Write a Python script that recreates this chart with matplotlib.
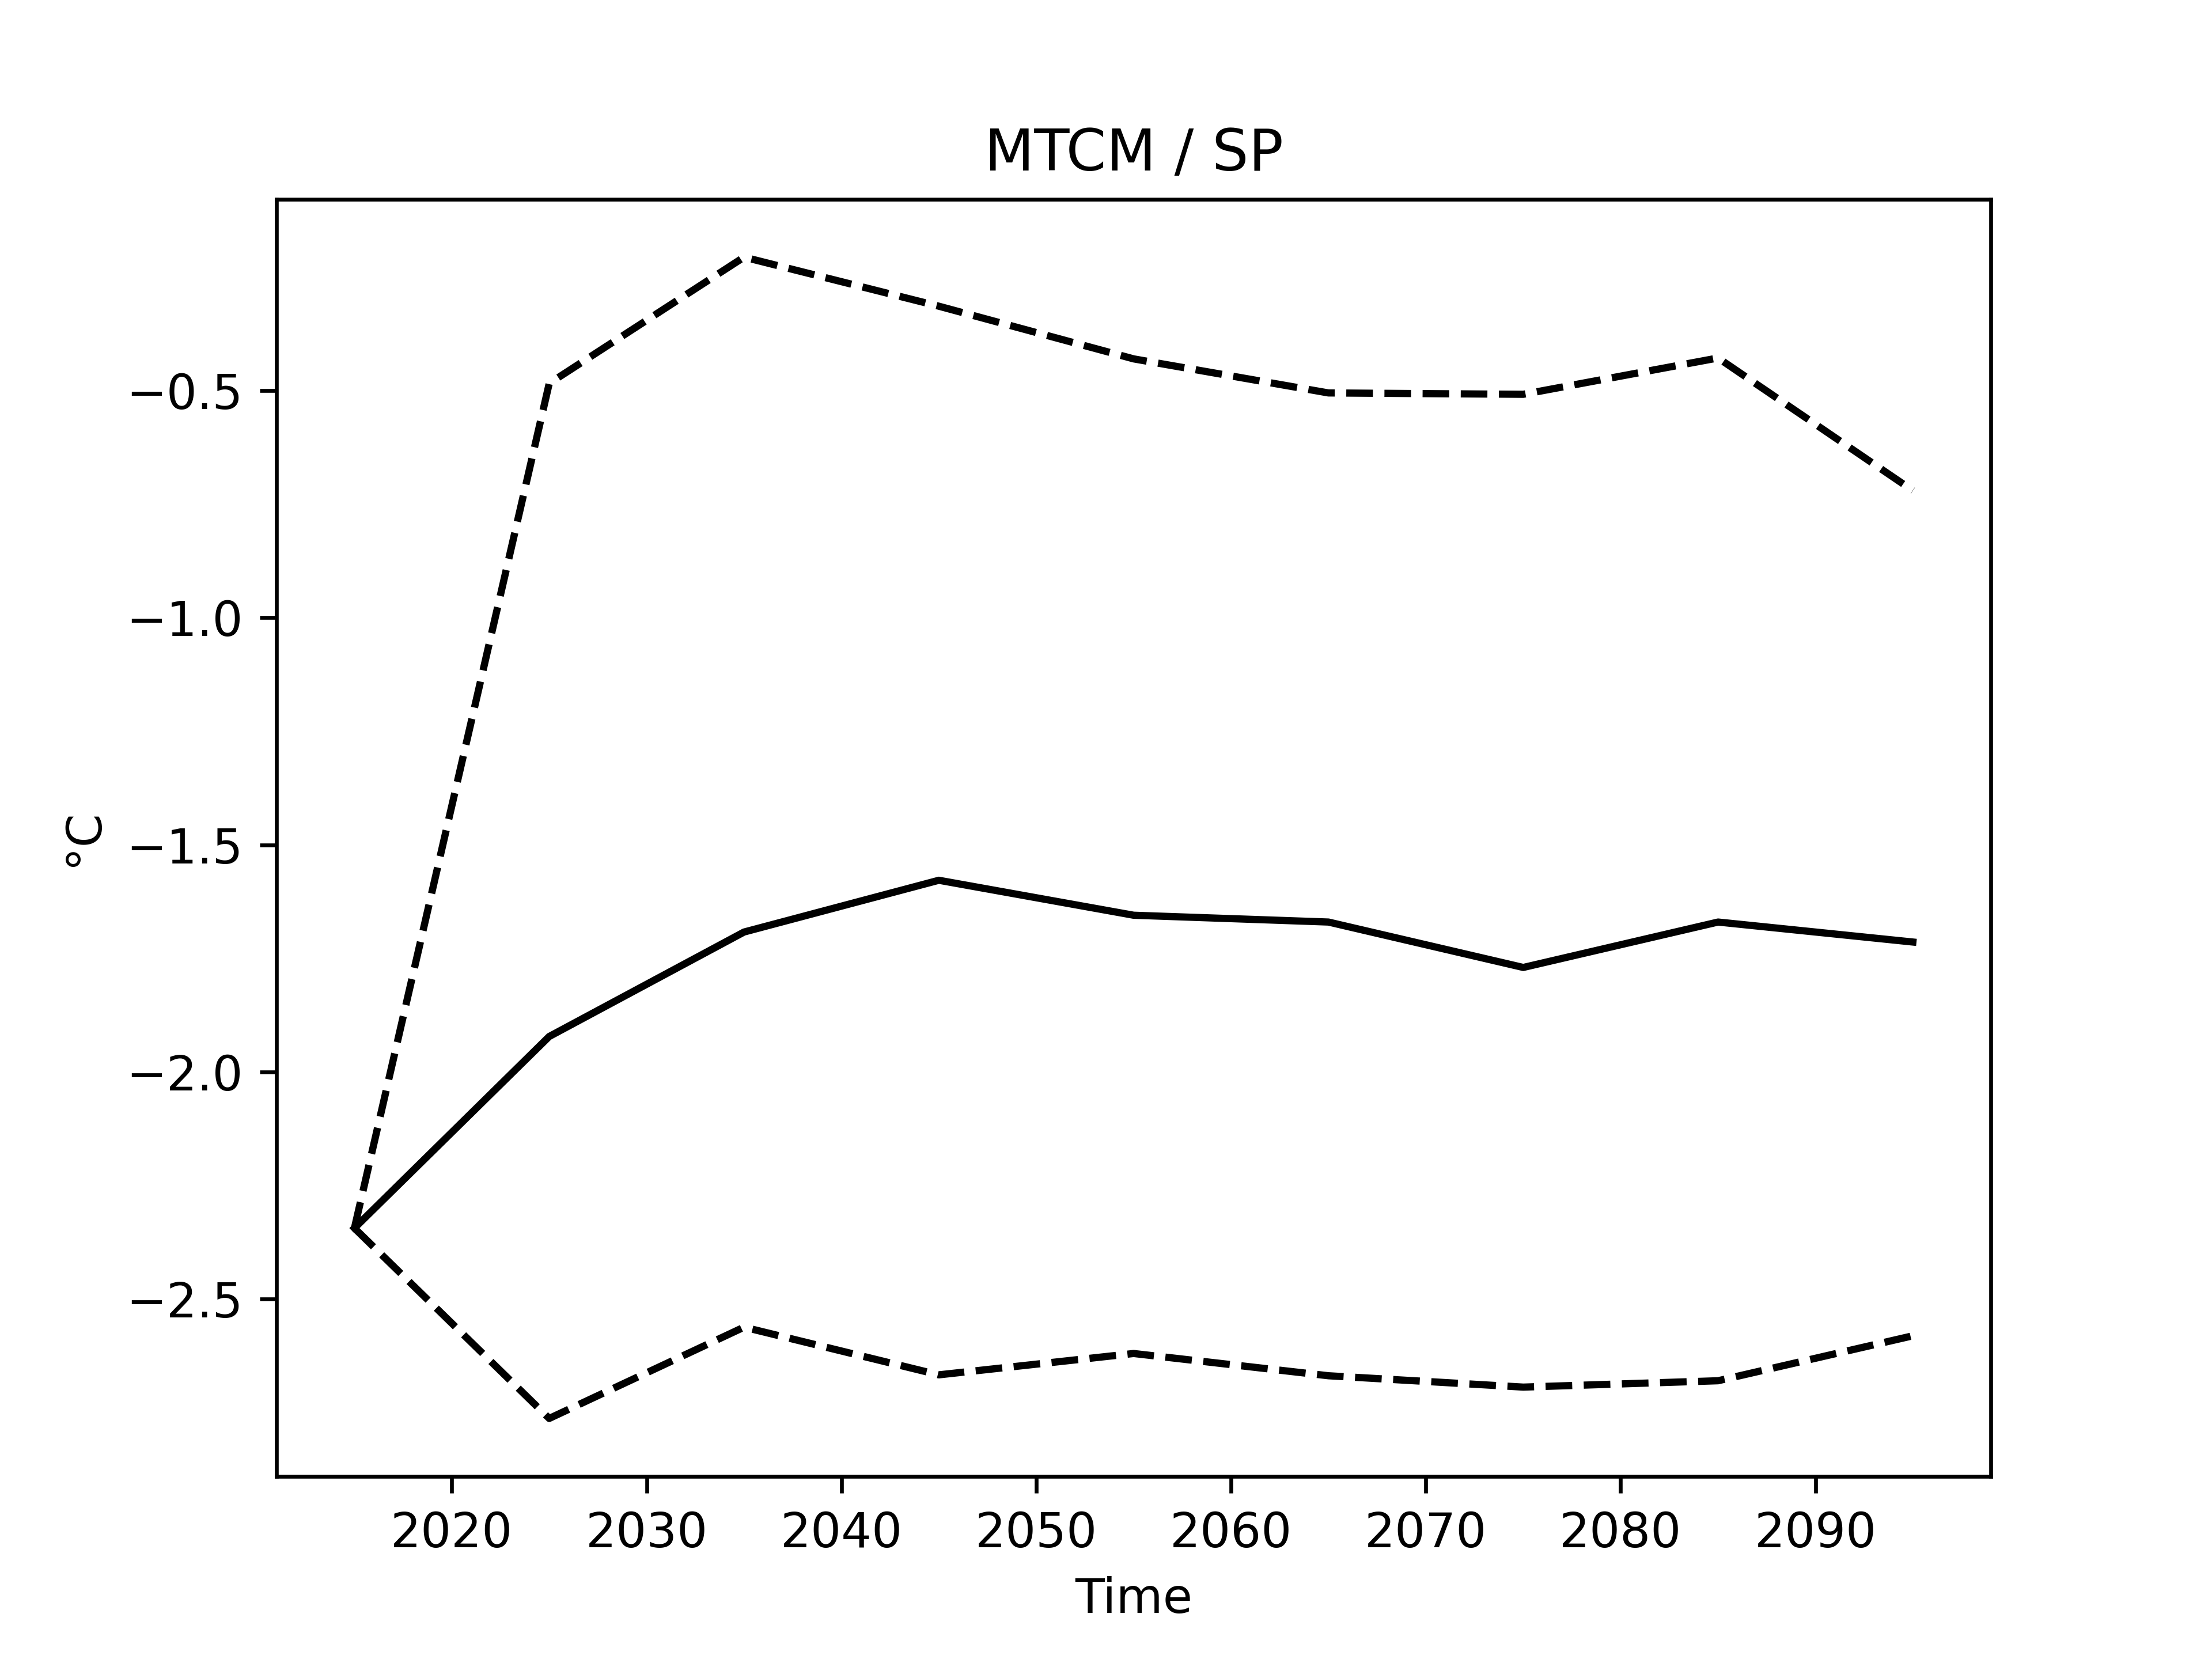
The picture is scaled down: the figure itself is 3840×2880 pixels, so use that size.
import matplotlib
matplotlib.use("Agg")
import matplotlib.pyplot as plt

years = [2015, 2025, 2035, 2045, 2055, 2065, 2075, 2085, 2095]
mean_vals = [-2.344, -1.922, -1.692, -1.578, -1.655, -1.670, -1.770, -1.670, -1.714]
upper_vals = [-2.344, -0.484, -0.206, -0.314, -0.430, -0.505, -0.508, -0.428, -0.720]
lower_vals = [-2.344, -2.763, -2.562, -2.667, -2.620, -2.669, -2.694, -2.680, -2.581]

fig, ax = plt.subplots(figsize=(6.4, 4.8))
ax.plot(years, mean_vals, color="black")
ax.plot(years, upper_vals, color="black", linestyle="--")
ax.plot(years, lower_vals, color="black", linestyle="--")
ax.set_title("MTCM / SP")
ax.set_xlabel("Time")
ax.set_ylabel("°C")
fig.savefig("out.png", dpi=600)
